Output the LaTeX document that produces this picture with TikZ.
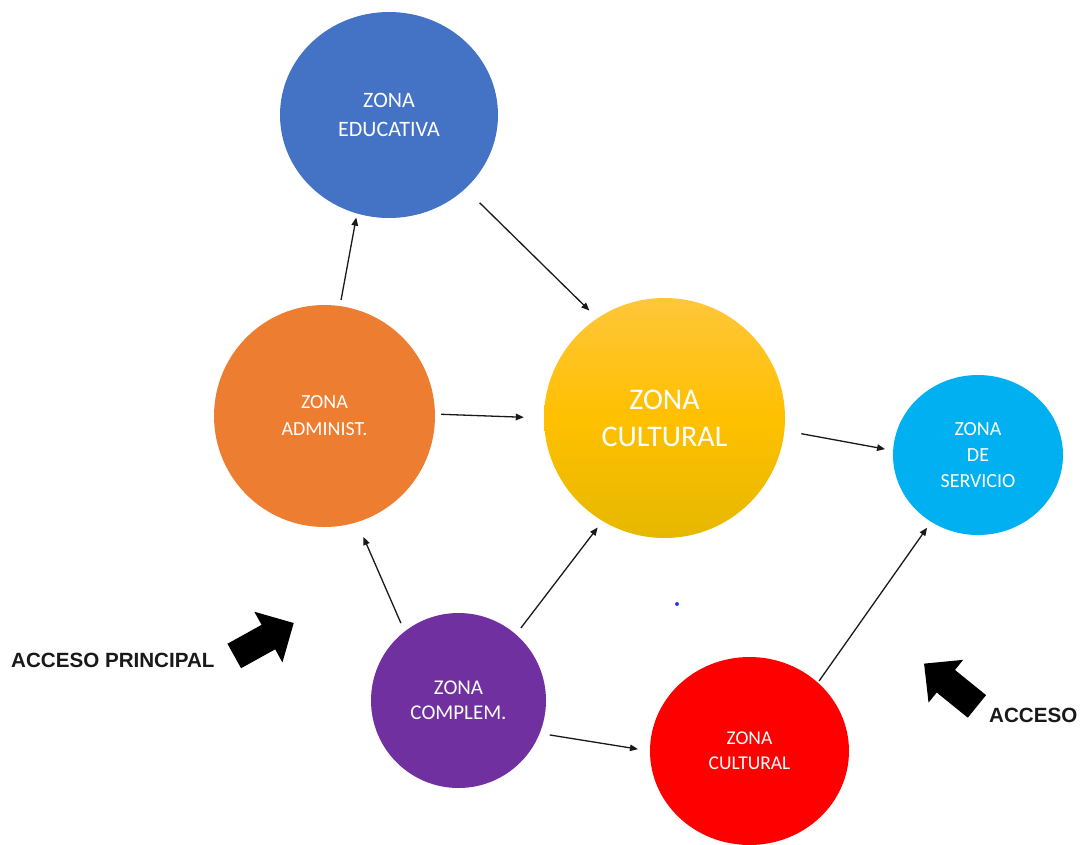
\documentclass[tikz,border=0pt]{standalone}
\usepackage{fontspec}
\usetikzlibrary{shapes.geometric,arrows.meta}
\newfontfamily\zonefont{Carlito}
\newfontfamily\accfont{Liberation Sans}
\definecolor{zblue}{HTML}{4472C4}
\definecolor{zorange}{HTML}{ED7D31}
\definecolor{zcyan}{HTML}{00B0F0}
\definecolor{zpurple}{HTML}{7030A0}
\definecolor{zred}{HTML}{FF0000}
\definecolor{ytop}{RGB}{255,198,58}
\definecolor{ymid}{RGB}{255,192,0}
\definecolor{ybot}{RGB}{230,184,0}
\definecolor{conncol}{RGB}{25,25,25}
\tikzset{
  zone/.style={ellipse, inner sep=0pt, text=white, align=center, draw=none},
  conn/.style={draw=conncol, line width=1.3pt, -{Triangle[length=8pt,width=6.5pt]}},
  acclabel/.style={anchor=west, inner sep=0pt, font=\accfont\bfseries\fontsize{20.6}{22}\selectfont, text=black!90},
  blockarrow/.style={fill=black}
}
\begin{document}
\begin{tikzpicture}[x=1pt,y=-1pt]
\useasboundingbox (0,0) rectangle (1081,844);

\node[zone, fill=zblue, minimum width=218pt, minimum height=206pt,
      font=\zonefont\fontsize{22}{29}\selectfont] (edu) at (389,115) {ZONA\\EDUCATIVA};
\node[zone, fill=zorange, minimum width=221pt, minimum height=222pt,
      font=\zonefont\fontsize{20}{27}\selectfont] (adm) at (324.5,416) {ZONA\\ADMINIST.};
\node[zone, top color=ytop, bottom color=ybot, middle color=ymid, minimum width=241pt, minimum height=240pt,
      font=\zonefont\fontsize{30}{37}\selectfont] (cul) at (664.5,418) {ZONA\\CULTURAL};
\node[zone, fill=zcyan, minimum width=170pt, minimum height=160pt,
      font=\zonefont\fontsize{20}{26}\selectfont] (srv) at (978,455) {ZONA\\DE\\SERVICIO};
\node[zone, fill=zpurple, minimum width=175pt, minimum height=175pt,
      font=\zonefont\fontsize{21}{25}\selectfont] (comp) at (458.5,700.5) {ZONA\\COMPLEM.};
\node[zone, fill=zred, minimum width=199pt, minimum height=188pt,
      font=\zonefont\fontsize{19.5}{25}\selectfont] (red) at (749.5,751) {ZONA\\CULTURAL};

% connectors
\draw[conn, shorten <=6pt, shorten >=4pt] (adm.82.6) -- (edu.252.7);
\draw[conn, shorten <=20pt, shorten >=11pt] (edu.316.6) -- (cul.124.8);
\draw[conn, shorten <=6pt, shorten >=20pt] (adm.1) -- (cul.180);
\draw[conn, shorten <=17pt, shorten >=8pt] (cul.354) -- (srv.177.5);
\draw[conn, shorten <=9pt, shorten >=16pt] (comp.128.7) -- (adm.287);
\draw[conn, shorten <=8pt, shorten >=8pt] (comp.49.3) -- (cul.239);
\draw[conn, shorten <=10pt, shorten >=12pt] (comp.338.2) -- (red.180);
\draw[conn, shorten <=2pt, shorten >=7pt] (red.45.8) -- (srv.235.6);

% access arrows
\fill[blockarrow, shift={(264,639.5)}, rotate=29]
  (-34pt,-14pt) -- (5pt,-14pt) -- (5pt,-29pt) -- (34pt,0pt) -- (5pt,29pt) -- (5pt,14pt) -- (-34pt,14pt) -- cycle;
\fill[blockarrow, shift={(950.5,685)}, rotate=141]
  (-34pt,-14.5pt) -- (6pt,-14.5pt) -- (6pt,-27.5pt) -- (34pt,0pt) -- (6pt,27.5pt) -- (6pt,14.5pt) -- (-34pt,14.5pt) -- cycle;

\node[acclabel] (accp) at (11,660) {ACCESO PRINCIPAL};
\node[acclabel] (acc) at (989,715) {ACCESO};

% stray dot
\fill[blue!80!white] (677,604) circle (2pt);
\end{tikzpicture}
\end{document}
